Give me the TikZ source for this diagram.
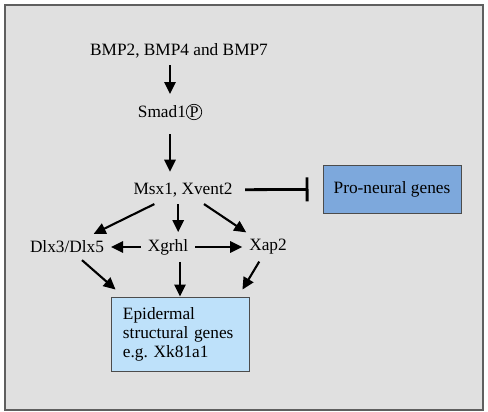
\documentclass[tikz,border=0pt]{standalone}
\usepackage{fontspec}
\setmainfont{Liberation Serif}
\usepackage{tikz}
\usetikzlibrary{arrows.meta,positioning}
\definecolor{panelgray}{RGB}{224,224,224}
\definecolor{framegray}{RGB}{95,95,95}
\definecolor{neuralblue}{RGB}{125,168,220}
\definecolor{paleblue}{RGB}{190,225,250}
\tikzset{
  panel/.style={rectangle, draw=framegray, line width=1.4pt, fill=panelgray},
  gene/.style={font=\fontsize{12.3}{14.5}\selectfont, inner sep=2pt, outer sep=3pt},
  block/.style={rectangle, draw=black!70, line width=0.6pt, font=\fontsize{12.3}{13.5}\selectfont},
  blockneural/.style={block, fill=neuralblue, minimum width=3.45cm, minimum height=1.2cm},
  blockepi/.style={block, fill=paleblue, align=left, text width=2.85cm, inner xsep=0.3cm,
                   minimum height=1.85cm},
  arrow/.style={-{Triangle[length=3mm, width=2.8mm]}, line width=1.5pt},
  inhibit/.style={-{Bar[width=6mm, line width=2pt]}, line width=2pt},
}
\newcommand{\phos}{\tikz[baseline=(P.base)]\node[circle, draw, line width=0.5pt, inner sep=0.4pt, outer sep=0pt] (P) {\fontsize{11.5}{11.5}\selectfont P};}

\begin{document}
\begin{tikzpicture}[x=0.025cm, y=-0.025cm]
\useasboundingbox (0,0) rectangle (488,412);
\node[panel, minimum width=11.95cm, minimum height=10.125cm] (frame) at (244,207.5) {};

\node[gene] (bmp) at (179,51) {BMP2, BMP4 and BMP7};
\node[gene] (smad) at (170,112) {Smad1\phos};
\node[gene] (msx) at (183,190) {Msx1, Xvent2};
\node[blockneural] (proneural) at (392,189) {Pro-neural genes};
\node[gene] (dlx) at (67,247) {Dlx3/Dlx5};
\node[gene] (xgrhl) at (168,247) {Xgrhl};
\node[gene] (xap) at (268,247) {Xap2};
\node[blockepi] (epi) at (180,334) {Epidermal\\structural genes\\e.g.\ Xk81a1};

% signalling cascade
\draw[arrow, shorten >=2pt] (smad.north |- bmp.south) -- (smad.north);
\draw[arrow, shorten <=5pt, shorten >=3pt] (smad.south) -- (smad.south |- msx.north);
\draw[inhibit, shorten <=4pt, shorten >=10pt] (msx) -- (proneural);

% targets of Msx1 / Xvent2
\draw[arrow] (msx) -- (dlx);
\draw[arrow] ([xshift=-0.12cm]msx.south) -- ([xshift=-0.12cm]msx.south |- xgrhl.north);
\draw[arrow] (msx) -- (xap);
\foreach \t in {dlx, xap}
  \draw[arrow] (xgrhl) -- (\t);

% epidermal genes
\draw[arrow] (dlx) -- ([xshift=0.125cm, yshift=0.175cm]epi.north west);
\draw[arrow] (epi.north |- xgrhl.south) -- (epi.north);
\draw[arrow] (xap) -- ([xshift=-0.175cm, yshift=0.175cm]epi.north east);
\end{tikzpicture}
\end{document}
